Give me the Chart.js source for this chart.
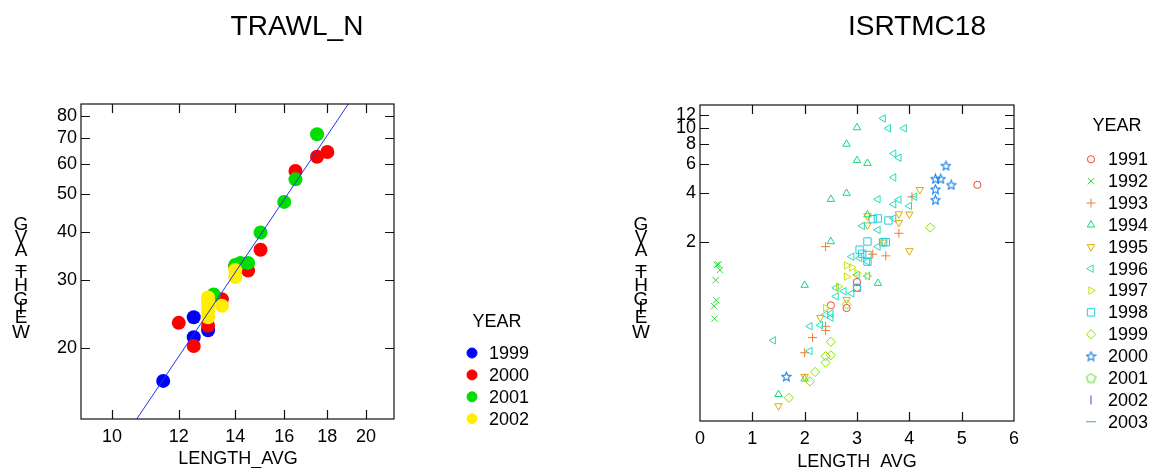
<!DOCTYPE html>
<html>
<head>
<meta charset="utf-8">
<script src="https://cdn.jsdelivr.net/npm/chart.js@4.4.0/dist/chart.umd.min.js"></script>
<style>
body { margin: 0; background: #fff; width: 1155px; height: 468px; overflow: hidden; position: relative; }
.box { position: absolute; top: 0; height: 468px; }
#left { left: 0; width: 577px; }
#right { left: 577px; width: 578px; }
</style>
</head>
<body>
<div class="box" id="left"><canvas id="trawlChart"></canvas></div>
<div class="box" id="right"><canvas id="isrtmcChart"></canvas></div>
<script>
// ---- TRAWL_N data (length, weight) ----
const trawlYears = ['1999', '2000', '2001', '2002'];
const trawlColors = ['#0000ff', '#ff0000', '#00dd00', '#ffee00'];
const trawl1999Len = [11.5, 12.5, 12.5, 13.0];
const trawl1999Wt = [16.4, 24.0, 21.3, 22.2];
const trawl2000Len = [12.0, 12.5, 13.0, 13.5, 14.0, 14.5, 15.0, 16.5, 17.5, 18.0];
const trawl2000Wt = [23.2, 20.2, 22.8, 26.7, 32.5, 31.7, 35.9, 57.5, 62.6, 64.4];
const trawl2001Len = [13.2, 14.0, 14.2, 14.5, 15.0, 16.0, 16.5, 17.5];
const trawl2001Wt = [27.5, 32.8, 33.2, 33.2, 39.8, 47.8, 54.7, 71.6];
const trawl2002Len = [13.0, 13.0, 13.0, 13.0, 13.0, 13.5, 14.0, 14.0];
const trawl2002Wt = [24.0, 24.8, 25.6, 26.4, 27.0, 25.7, 30.5, 31.8];
const trawlFitLen = [10.70, 19.06];
const trawlFitWt = [13.06, 85.8];
const trawlXTicks = [10, 12, 14, 16, 18, 20];
const trawlYTicks = [20, 30, 40, 50, 60, 70, 80];

// ---- ISRTMC18 data (length, weight) ----
const isrYears = ['1991', '1992', '1993', '1994', '1995', '1996', '1997', '1998', '1999', '2000', '2001', '2002', '2003'];
const isrColors = ['#ee4433', '#22dd33', '#f07f30', '#11dd77', '#e0a800', '#22ddbb', '#cce000', '#22ccdd', '#88e000', '#1582e8', '#66dd33', '#2255dd', '#33cc33'];
const isr1991Len = [5.3, 3.0, 3.0, 2.5, 2.8];
const isr1991Wt = [4.5, 1.14, 1.05, 0.82, 0.79];
const isr1992Len = [0.32, 0.35, 0.38, 0.30, 0.31, 0.27, 0.28];
const isr1992Wt = [1.45, 1.46, 1.35, 1.17, 0.88, 0.81, 0.68];
const isr1993Len = [2.4, 4.05, 3.8, 3.3, 3.55, 2.4, 2.4, 2.15, 2.0];
const isr1993Wt = [1.88, 3.8, 2.27, 1.69, 1.65, 0.61, 0.575, 0.52, 0.42];
const isr1994Len = [3.0, 2.8, 3.0, 3.2, 2.5, 2.8, 2.5, 2.0, 3.4, 3.2, 1.5, 2.0];
const isr1994Wt = [10.1, 8.0, 6.35, 6.1, 3.67, 4.0, 2.02, 1.09, 1.12, 2.95, 0.233, 0.29];
const isr1995Len = [4.2, 4.0, 3.8, 3.8, 3.2, 3.2, 4.0, 3.5, 2.8, 2.3, 2.0, 1.5];
const isr1995Wt = [4.2, 2.97, 2.98, 2.64, 2.9, 2.55, 1.77, 2.0, 0.89, 0.69, 0.30, 0.198];
const isr1996Len = [3.5, 3.6, 3.9, 3.7, 3.8, 3.7, 3.4, 3.8, 3.7, 4.0, 4.1, 3.4, 3.1, 3.7, 3.4, 2.9, 3.05, 3.2, 3.0, 3.2, 2.6, 2.75, 2.9, 2.6, 2.5, 2.4, 2.1, 2.3, 2.5, 1.4, 2.1];
const isr1996Wt = [11.5, 10.0, 10.0, 7.0, 6.6, 5.0, 3.67, 3.65, 3.42, 3.34, 3.8, 2.38, 2.52, 2.8, 1.88, 1.63, 1.6, 1.52, 1.26, 1.24, 1.05, 1.0, 0.97, 0.93, 0.73, 0.72, 0.61, 0.62, 0.69, 0.5, 0.43];
const isr1997Len = [2.8, 2.9, 2.8, 3.0, 3.2, 2.65, 2.4];
const isr1997Wt = [1.44, 1.40, 1.23, 1.29, 1.24, 1.07, 0.79];
const isr1998Len = [3.3, 3.4, 3.6, 3.2, 3.5, 3.55, 3.05, 3.1, 3.2, 3.2, 3.0];
const isr1998Wt = [2.77, 2.8, 2.72, 2.02, 2.0, 2.0, 1.8, 1.7, 1.67, 1.52, 1.05];
const isr1999Len = [4.4, 2.8, 2.5, 2.4, 2.5, 2.4, 2.2, 2.1, 1.7];
const isr1999Wt = [2.46, 0.83, 0.49, 0.40, 0.405, 0.365, 0.32, 0.28, 0.222];
const isr2000Len = [4.7, 4.5, 4.6, 4.8, 4.5, 4.5, 1.65];
const isr2000Wt = [5.9, 4.9, 4.9, 4.5, 4.23, 3.64, 0.30];
const isr2001Len = [];
const isr2001Wt = [];
const isr2002Len = [];
const isr2002Wt = [];
const isr2003Len = [];
const isr2003Wt = [];
const isrXTicks = [0, 1, 2, 3, 4, 5, 6];
const isrYTicks = [2, 4, 6, 8, 10, 12];

const FONT = "'Liberation Sans', Arial, sans-serif";

function pairs(xs, ys) {
    return xs.map((x, i) => ({ x: x, y: ys[i] }));
}

// small canvases for the star and pentagon markers
function polyMarker(color, points, inner) {
    const c = document.createElement('canvas');
    c.width = 11; c.height = 11;
    const g = c.getContext('2d');
    g.strokeStyle = color;
    g.lineWidth = 1.1;
    g.beginPath();
    const n = inner ? points * 2 : points;
    for (let i = 0; i < n; i++) {
        const r = inner && i % 2 ? 2.2 : 4.8;
        const a = -Math.PI / 2 + i * Math.PI * 2 / n;
        const px = 5.5 + r * Math.cos(a), py = 5.9 + r * Math.sin(a);
        if (i === 0) g.moveTo(px, py); else g.lineTo(px, py);
    }
    g.closePath();
    g.stroke();
    return c;
}

// frame, inward ticks, titles, stacked y label and legend
const decorPlugin = {
    id: 'decor',
    afterDraw(chart, args, opts) {
        const { ctx, chartArea: a, scales } = chart;
        ctx.save();
        ctx.strokeStyle = '#111';
        ctx.lineWidth = 1.2;
        ctx.strokeRect(a.left, a.top, a.right - a.left, a.bottom - a.top);
        const tl = 9;
        ctx.beginPath();
        scales.x.ticks.forEach(t => {
            const px = Math.round(scales.x.getPixelForValue(t.value)) + 0.5;
            if (px <= a.left + 1 || px >= a.right - 1) return;
            ctx.moveTo(px, a.bottom); ctx.lineTo(px, a.bottom - tl);
            ctx.moveTo(px, a.top); ctx.lineTo(px, a.top + tl);
        });
        scales.y.ticks.forEach(t => {
            const py = Math.round(scales.y.getPixelForValue(t.value)) + 0.5;
            ctx.moveTo(a.left, py); ctx.lineTo(a.left + tl, py);
            ctx.moveTo(a.right, py); ctx.lineTo(a.right - tl, py);
        });
        ctx.stroke();

        ctx.fillStyle = '#000';
        ctx.textAlign = 'center';
        ctx.textBaseline = 'alphabetic';
        ctx.font = '28px ' + FONT;
        ctx.fillText(opts.title, opts.titleX, 35);
        ctx.font = '18px ' + FONT;
        ctx.fillText(opts.xLabel, opts.xLabelX, opts.xLabelY);

        // y label: upright glyphs stacked bottom to top
        let y = 342;
        const word = 'WEIGHT_AVG';
        for (const ch of word) {
            ctx.font = '18px ' + FONT;
            const w = ctx.measureText(ch).width * 1.04;
            ctx.font = '19px ' + FONT;
            ctx.textBaseline = 'middle';
            ctx.fillText(ch, opts.yLabelX, y - w / 2);
            y -= w;
        }

        // legend
        const lg = opts.legend;
        ctx.font = '18px ' + FONT;
        ctx.textBaseline = 'middle';
        ctx.fillText('YEAR', lg.titleX, lg.titleY);
        ctx.textAlign = 'left';
        let row = 0;
        chart.data.datasets.forEach(ds => {
            if (!ds.inLegend) return;
            const ly = lg.y0 + row * lg.step;
            ctx.strokeStyle = ds.borderColor;
            ctx.fillStyle = ds.backgroundColor;
            ctx.lineWidth = ds.borderWidth || 1;
            Chart.helpers.drawPoint(ctx, {
                pointStyle: ds.pointStyle,
                rotation: ds.pointRotation || 0,
                radius: ds.legendRadius || ds.pointRadius,
                borderWidth: ds.borderWidth || 1
            }, lg.markX, ly);
            ctx.fillStyle = '#000';
            ctx.fillText(ds.label, lg.textX, ly + 1);
            row++;
        });
        ctx.restore();
    }
};

function fixedTicks(list) {
    return scale => { scale.ticks = list.map(v => ({ value: v })); };
}

// ---- left chart ----
const trawlLen = [trawl1999Len, trawl2000Len, trawl2001Len, trawl2002Len];
const trawlWt = [trawl1999Wt, trawl2000Wt, trawl2001Wt, trawl2002Wt];
const trawlSets = trawlYears.map((yr, i) => ({
    type: 'scatter',
    label: yr,
    data: pairs(trawlLen[i], trawlWt[i]),
    backgroundColor: trawlColors[i],
    borderColor: trawlColors[i],
    pointRadius: 7,
    legendRadius: 5,
    pointStyle: 'circle',
    borderWidth: 0,
    order: 10 - i,
    inLegend: true
}));
trawlSets.push({
    type: 'line',
    label: 'fit',
    data: pairs(trawlFitLen, trawlFitWt),
    borderColor: '#2233ee',
    borderWidth: 1,
    pointRadius: 0,
    order: 0
});

new Chart(document.getElementById('trawlChart'), {
    type: 'scatter',
    data: { datasets: trawlSets },
    options: {
        responsive: true,
        maintainAspectRatio: false,
        animation: false,
        layout: { padding: { left: 41, right: 183, top: 104, bottom: 0 } },
        scales: {
            x: {
                type: 'logarithmic',
                min: 9.19, max: 21.59,
                afterBuildTicks: fixedTicks(trawlXTicks),
                afterFit: s => { s.height = 49; },
                grid: { display: false, drawTicks: false },
                border: { display: false },
                ticks: { autoSkip: false, maxRotation: 0, padding: 7, color: '#000', font: { family: FONT, size: 18 }, callback: v => String(v) }
            },
            y: {
                type: 'logarithmic',
                min: 13.06, max: 85.8,
                afterBuildTicks: fixedTicks(trawlYTicks),
                afterFit: s => { s.width = 40; },
                grid: { display: false, drawTicks: false },
                border: { display: false },
                ticks: { autoSkip: false, padding: 4, color: '#000', font: { family: FONT, size: 18 }, callback: v => String(v) }
            }
        },
        plugins: {
            legend: { display: false },
            tooltip: { enabled: false },
            decor: {
                title: 'TRAWL_N', titleX: 297,
                xLabel: 'LENGTH_AVG', xLabelX: 238, xLabelY: 464,
                yLabelX: 21,
                legend: { titleX: 497, titleY: 322, y0: 353, step: 21.9, markX: 472, textX: 489 }
            }
        }
    },
    plugins: [decorPlugin]
});

// ---- right chart ----
const isrLen = [isr1991Len, isr1992Len, isr1993Len, isr1994Len, isr1995Len, isr1996Len, isr1997Len, isr1998Len, isr1999Len, isr2000Len, isr2001Len, isr2002Len, isr2003Len];
const isrWt = [isr1991Wt, isr1992Wt, isr1993Wt, isr1994Wt, isr1995Wt, isr1996Wt, isr1997Wt, isr1998Wt, isr1999Wt, isr2000Wt, isr2001Wt, isr2002Wt, isr2003Wt];
const isrStyles = [
    { s: 'circle', r: 3.6, rot: 0 },
    { s: 'crossRot', r: 4.5, rot: 0 },
    { s: 'cross', r: 4.5, rot: 0 },
    { s: 'triangle', r: 4.3, rot: 0 },
    { s: 'triangle', r: 4.3, rot: 180 },
    { s: 'triangle', r: 4.3, rot: 270 },
    { s: 'triangle', r: 4.3, rot: 90 },
    { s: 'rect', r: 5.2, rot: 0 },
    { s: 'rectRot', r: 4.6, rot: 0 },
    { s: 'star5', r: 6, rot: 0 },
    { s: 'pent', r: 6, rot: 0 },
    { s: 'line', r: 4.5, rot: 90 },
    { s: 'line', r: 5, rot: 0 }
];
const isrSets = isrYears.map((yr, i) => {
    const st = isrStyles[i];
    let style = st.s;
    if (style === 'star5') style = polyMarker(isrColors[i], 5, true);
    if (style === 'pent') style = polyMarker(isrColors[i], 5, false);
    return {
        label: yr,
        data: pairs(isrLen[i], isrWt[i]),
        backgroundColor: 'rgba(0,0,0,0)',
        borderColor: isrColors[i],
        borderWidth: 1,
        pointStyle: style,
        pointRotation: st.rot,
        pointRadius: st.r,
        order: 20 - i,
        inLegend: true
    };
});

new Chart(document.getElementById('isrtmcChart'), {
    type: 'scatter',
    data: { datasets: isrSets },
    options: {
        responsive: true,
        maintainAspectRatio: false,
        animation: false,
        layout: { padding: { left: 83, right: 141, top: 105, bottom: 0 } },
        scales: {
            x: {
                type: 'linear',
                min: 0, max: 6,
                afterBuildTicks: fixedTicks(isrXTicks),
                afterFit: s => { s.height = 47; },
                grid: { display: false, drawTicks: false },
                border: { display: false },
                ticks: { autoSkip: false, maxRotation: 0, padding: 7, color: '#000', font: { family: FONT, size: 18 } }
            },
            y: {
                type: 'logarithmic',
                min: 0.16, max: 13.9,
                afterBuildTicks: fixedTicks(isrYTicks),
                afterFit: s => { s.width = 40; },
                grid: { display: false, drawTicks: false },
                border: { display: false },
                ticks: { autoSkip: false, padding: 4, color: '#000', font: { family: FONT, size: 18 }, callback: v => String(v) }
            }
        },
        plugins: {
            legend: { display: false },
            tooltip: { enabled: false },
            decor: {
                title: 'ISRTMC18', titleX: 340,
                xLabel: 'LENGTH_AVG', xLabelX: 280, xLabelY: 467,
                yLabelX: 64,
                legend: { titleX: 540, titleY: 126, y0: 159.3, step: 21.87, markX: 514, textX: 531 }
            }
        }
    },
    plugins: [decorPlugin]
});
</script>
</body>
</html>
